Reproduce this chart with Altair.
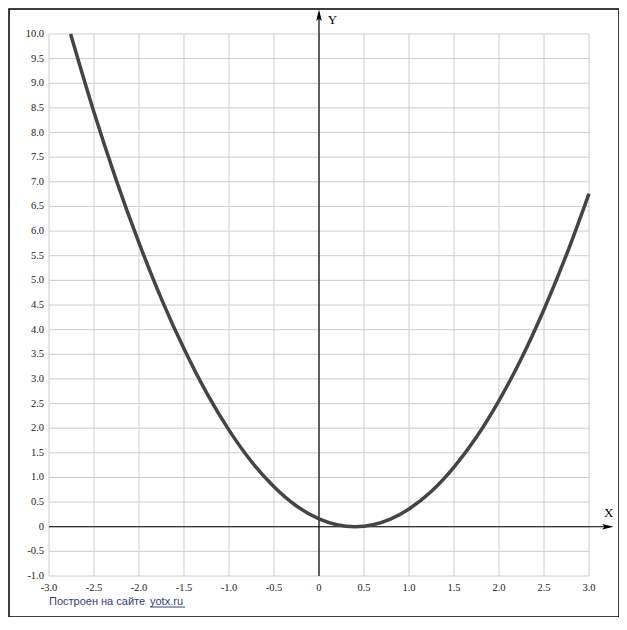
import altair as alt
import pandas as pd

# Curve points
curve_x = [-2.76, -2.5, -2.25, -2.0, -1.75, -1.5, -1.25, -1.0, -0.75, -0.5, -0.25,
           0.0, 0.2, 0.4, 0.6, 0.8, 1.0, 1.25, 1.5, 1.75, 2.0, 2.25, 2.5, 2.75, 3.0]
curve_y = [10.0, 8.41, 7.02, 5.76, 4.62, 3.61, 2.72, 1.96, 1.32, 0.81, 0.42,
           0.16, 0.04, 0.0, 0.04, 0.16, 0.36, 0.72, 1.21, 1.82, 2.56, 3.42, 4.41, 5.52, 6.76]

x_ticks = [-3.0, -2.5, -2.0, -1.5, -1.0, -0.5, 0.0, 0.5, 1.0, 1.5, 2.0, 2.5, 3.0]
x_tick_labels = ["-3.0", "-2.5", "-2.0", "-1.5", "-1.0", "-0.5", "0", "0.5", "1.0", "1.5", "2.0", "2.5", "3.0"]
y_ticks = [-1.0, -0.5, 0.0, 0.5, 1.0, 1.5, 2.0, 2.5, 3.0, 3.5, 4.0, 4.5, 5.0, 5.5,
           6.0, 6.5, 7.0, 7.5, 8.0, 8.5, 9.0, 9.5, 10.0]
y_tick_labels = ["-1.0", "-0.5", "0", "0.5", "1.0", "1.5", "2.0", "2.5", "3.0", "3.5", "4.0", "4.5", "5.0", "5.5",
                 "6.0", "6.5", "7.0", "7.5", "8.0", "8.5", "9.0", "9.5", "10.0"]

XMIN, XMAX = -3.0, 3.0
YMIN, YMAX = -1.0, 10.0

W, H = 610, 608
xs = alt.Scale(domain=[-3.4444, 3.3333], nice=False, zero=False)
ys = alt.Scale(domain=[-1.832, 10.507], nice=False, zero=False)

curve_df = pd.DataFrame({"x": curve_x, "y": curve_y})
vgrid = pd.DataFrame({"x": x_ticks, "y": [YMIN] * len(x_ticks), "y2": [YMAX] * len(x_ticks)})
hgrid = pd.DataFrame({"y": y_ticks, "x": [XMIN] * len(y_ticks), "x2": [XMAX] * len(y_ticks)})
xlab = pd.DataFrame({"x": x_ticks, "t": x_tick_labels})
ylab = pd.DataFrame({"y": y_ticks, "t": y_tick_labels})

X = lambda f="x": alt.X(f"{f}:Q", scale=xs, axis=None)
Y = lambda f="y": alt.Y(f"{f}:Q", scale=ys, axis=None)

grid_color = "#cccccc"
vg = alt.Chart(vgrid).mark_rule(color=grid_color, strokeWidth=1).encode(x=X(), y=Y(), y2="y2:Q")
hg = alt.Chart(hgrid).mark_rule(color=grid_color, strokeWidth=1).encode(y=Y(), x=X(), x2="x2:Q")

axes_df = pd.DataFrame({"x": [XMIN, 0.0], "x2": [3.22, 0.0], "y": [0.0, YMIN], "y2": [0.0, 10.40]})
axes = alt.Chart(axes_df).mark_rule(color="black", strokeWidth=1.2).encode(
    x=X(), x2="x2:Q", y=Y(), y2="y2:Q")

arr_r = alt.Chart(pd.DataFrame({"x": [3.21], "y": [0.0]})).mark_point(
    shape="M-1,-0.5L1,0L-1,0.5L-0.6,0Z", filled=True, color="black", size=130, opacity=1
).encode(x=X(), y=Y())
arr_u = alt.Chart(pd.DataFrame({"x": [0.0], "y": [10.38]})).mark_point(
    shape="M-0.5,1L0,-1L0.5,1L0,0.6Z", filled=True, color="black", size=130, opacity=1
).encode(x=X(), y=Y())

axis_names = alt.Chart(pd.DataFrame({"x": [3.22, 0.15], "y": [0.28, 10.28], "t": ["X", "Y"]})).mark_text(
    font="Liberation Serif", fontSize=13, color="black", align="center", baseline="middle"
).encode(x=X(), y=Y(), text="t:N")

xl = alt.Chart(xlab).mark_text(font="Liberation Serif", fontSize=10.5, color="#222222",
                               align="center", baseline="middle").encode(
    x=X(), y=alt.value(579), text="t:N")
yl = alt.Chart(ylab).mark_text(font="Liberation Serif", fontSize=10.5, color="#222222",
                               align="right", baseline="middle").encode(
    x=alt.value(35), y=Y(), text="t:N")

line = alt.Chart(curve_df).mark_line(color="#444444", strokeWidth=3.5, interpolate="monotone").encode(
    x=X(), y=Y())

foot_color = "#2e4080"
footer1 = alt.Chart(pd.DataFrame({"t": ["Построен на сайте"]})).mark_text(
    font="Liberation Sans", fontSize=11, color=foot_color, align="left", baseline="alphabetic"
).encode(x=alt.value(40), y=alt.value(596), text="t:N")
footer2 = alt.Chart(pd.DataFrame({"t": ["yotx.ru"]})).mark_text(
    font="Liberation Sans", fontSize=11, color=foot_color, align="left", baseline="alphabetic"
).encode(x=alt.value(141), y=alt.value(596), text="t:N")
uline = alt.Chart(pd.DataFrame({"a": [0]})).mark_rule(color=foot_color, strokeWidth=1).encode(
    x=alt.value(141), x2=alt.value(176), y=alt.value(598))

chart = alt.layer(vg, hg, axes, arr_r, arr_u, axis_names, xl, yl, line, footer1, footer2, uline).properties(
    width=W, height=H,
    padding={"left": 1, "top": 1, "right": 0, "bottom": 0},
    autosize=alt.AutoSizeParams(type="none"),
    background="white",
).configure_view(stroke="black", strokeWidth=1.5)

chart.save("out.html", embed_options={"renderer": "svg", "actions": False})
